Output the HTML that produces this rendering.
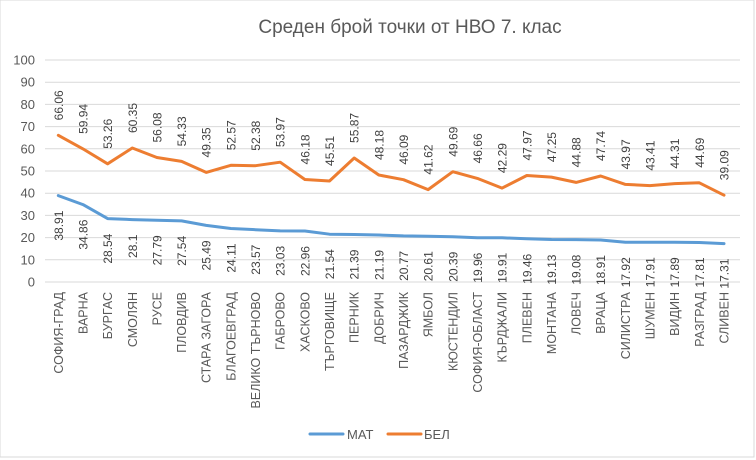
<!DOCTYPE html>
<html><head><meta charset="utf-8"><style>
html,body{margin:0;padding:0;background:#fff}
svg{display:block;font-family:"Liberation Sans","DejaVu Sans",sans-serif}
</style></head><body>
<svg id="chart" width="756" height="460" viewBox="0 0 756 460">
<rect x="0" y="0" width="754" height="457" fill="#fff" stroke="#d9d9d9" stroke-width="1"/>
<text x="410" y="33" font-size="19" fill="#595959" text-anchor="middle">Среден брой точки от НВО 7. клас</text>
<g id="grid"></g>
<g id="yaxis"></g>
<g id="xaxis"></g>
<g id="series"></g>
<g>
<line x1="310" y1="434" x2="343" y2="434" stroke="#5b9bd5" stroke-width="3" stroke-linecap="round"/>
<text x="347" y="439" font-size="13" fill="#595959">МАТ</text>
<line x1="388" y1="434" x2="421" y2="434" stroke="#ed7d31" stroke-width="3" stroke-linecap="round"/>
<text x="424" y="439" font-size="13" fill="#595959">БЕЛ</text>
</g>
</svg>
<script>
const categories=["СОФИЯ-ГРАД","ВАРНА","БУРГАС","СМОЛЯН","РУСЕ","ПЛОВДИВ","СТАРА ЗАГОРА","БЛАГОЕВГРАД","ВЕЛИКО ТЪРНОВО","ГАБРОВО","ХАСКОВО","ТЪРГОВИЩЕ","ПЕРНИК","ДОБРИЧ","ПАЗАРДЖИК","ЯМБОЛ","КЮСТЕНДИЛ","СОФИЯ-ОБЛАСТ","КЪРДЖАЛИ","ПЛЕВЕН","МОНТАНА","ЛОВЕЧ","ВРАЦА","СИЛИСТРА","ШУМЕН","ВИДИН","РАЗГРАД","СЛИВЕН"];
const matValues=[38.91,34.86,28.54,28.1,27.79,27.54,25.49,24.11,23.57,23.03,22.96,21.54,21.39,21.19,20.77,20.61,20.39,19.96,19.91,19.46,19.13,19.08,18.91,17.92,17.91,17.89,17.81,17.31];
const belValues=[66.06,59.94,53.26,60.35,56.08,54.33,49.35,52.57,52.38,53.97,46.18,45.51,55.87,48.18,46.09,41.62,49.69,46.66,42.29,47.97,47.25,44.88,47.74,43.97,43.41,44.31,44.69,39.09];
const yTicks=[0,10,20,30,40,50,60,70,80,90,100];

const NS="http://www.w3.org/2000/svg";
const x0=58.3,x1=724,yBase=282,yTop=60,left=45,right=740;
function xs(i){return x0+i*(x1-x0)/(categories.length-1);}
function ys(v){return yBase-(v/100)*(yBase-yTop);}
function mk(tag,attrs,parent){const e=document.createElementNS(NS,tag);for(const k in attrs)e.setAttribute(k,attrs[k]);parent.appendChild(e);return e;}
const grid=document.getElementById('grid'),yax=document.getElementById('yaxis'),xax=document.getElementById('xaxis'),ser=document.getElementById('series');
yTicks.forEach(t=>{
  const l=mk('line',{x1:left,x2:right,y1:ys(t),y2:ys(t),stroke:'#d9d9d9','stroke-width':1},grid);
  
  
  const tx=mk('text',{x:35,y:ys(t)+4.5,'font-size':13,fill:'#595959','text-anchor':'end'},yax);
  tx.textContent=t;
  
  
});
categories.forEach((c,i)=>{
  const x=xs(i);
  const t=mk('text',{x:0,y:0,'font-size':12.5,fill:'#595959','text-anchor':'end',transform:`translate(${x+4.5},292) rotate(-90)`},xax);
  t.textContent=c;
  
  
});
function series(vals,color,name,below){
  const pts=vals.map((v,i)=>xs(i).toFixed(1)+','+ys(v).toFixed(1)).join(' ');
  const pl=mk('polyline',{points:pts,fill:'none',stroke:color,'stroke-width':3,'stroke-linejoin':'round','stroke-linecap':'round'},ser);
  
  
  vals.forEach((v,i)=>{
    const x=xs(i),y=ys(v);
    const t=mk('text',{x:0,y:0,'font-size':12,fill:'#404040','text-anchor':below?'end':'start',transform:`translate(${x+4.5},${below?y+15:y-15}) rotate(-90)`},ser);
    t.textContent=String(v);
    
    
  });
}
series(belValues,'#ed7d31','bel',false);
series(matValues,'#5b9bd5','mat',true);
</script>
</body></html>
